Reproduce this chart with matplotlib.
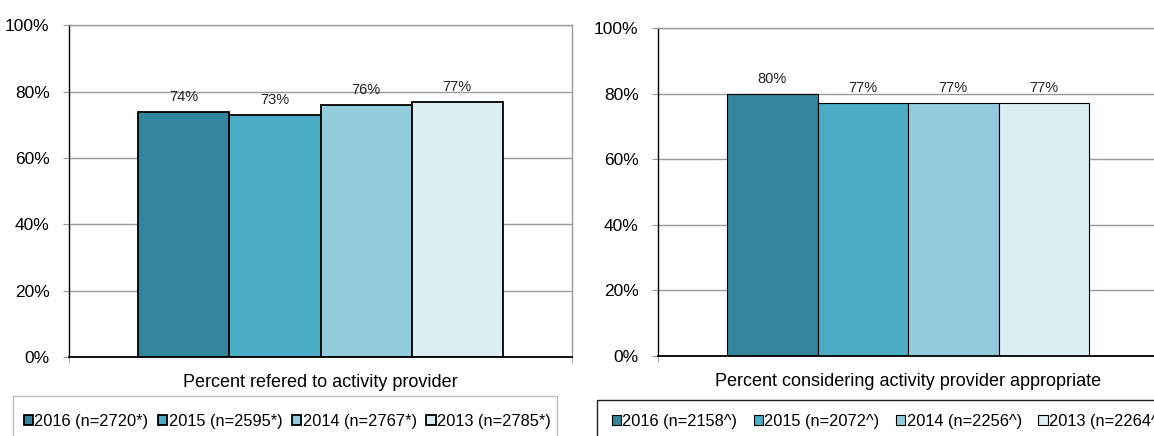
import matplotlib
matplotlib.use("Agg")
import matplotlib.pyplot as plt
from matplotlib.patches import Rectangle

plt.rcParams['font.family'] = ['Liberation Sans', 'DejaVu Sans']

# Survey results per year
years = ["2016", "2015", "2014", "2013"]
left_category = "Percent refered to activity provider"
left_values = [74, 73, 76, 77]
left_labels = ["2016 (n=2720*)", "2015 (n=2595*)", "2014 (n=2767*)", "2013 (n=2785*)"]

right_category = "Percent considering activity provider appropriate"
right_values = [80, 77, 77, 77]
right_labels = ["2016 (n=2158^)", "2015 (n=2072^)", "2014 (n=2256^)", "2013 (n=2264^)"]

yticks = [0, 20, 40, 60, 80, 100]
colors = ["#31859C", "#4BACC6", "#93CDDD", "#DBEEF4"]

W, H = 1154, 436
fig = plt.figure(figsize=(W / 100, H / 100), dpi=100)

GRID = "#9a9a9a"


def draw_panel(rect, values, labels, category, edge_lw, legend_x, legend_spacing,
               frame_rect, frame_color):
    ax = fig.add_axes(rect)
    w = 0.181
    handles = []
    for i, (v, c, lab) in enumerate(zip(values, colors, labels)):
        x = (i - 1.5) * w
        b = ax.bar(x, v, width=w, color=c, edgecolor="black", linewidth=edge_lw,
                   label=lab, zorder=3)
        handles.append(b)
        ax.annotate(f"{v}%", (x, v), xytext=(0, 8), textcoords="offset pixels",
                    ha="center", va="bottom", fontsize=10.5, color="#222222")
    ax.set_xlim(-0.5, 0.5)
    ax.set_ylim(0, 100)
    ax.set_yticks(yticks)
    ax.set_yticklabels([f"{t}%" for t in yticks], fontsize=12.5)
    ax.yaxis.grid(True, color=GRID, linewidth=1.0, zorder=0)
    ax.tick_params(axis="y", length=4, color=GRID, pad=10)
    ax.set_xticks([0])
    ax.set_xticklabels([category], fontsize=13)
    ax.tick_params(axis="x", length=0, pad=12)
    ax.set_xticks([-0.5, 0.5], minor=True)
    ax.tick_params(axis="x", which="minor", length=4, color=GRID)
    for s in ("top", "right"):
        ax.spines[s].set_color(GRID)
        ax.spines[s].set_linewidth(1.0)
    ax.spines["left"].set_color("black")
    ax.spines["left"].set_linewidth(1.0)
    ax.spines["bottom"].set_color("black")
    ax.spines["bottom"].set_linewidth(1.3)
    ax.spines["bottom"].set_zorder(4)

    fig.patches.append(Rectangle(frame_rect[:2], frame_rect[2], frame_rect[3],
                                 transform=fig.transFigure, fill=False,
                                 edgecolor=frame_color, linewidth=1.0))
    fig.legend(handles=handles, labels=labels, loc="center left",
               bbox_to_anchor=(legend_x, 1 - 421.5 / H), ncol=4, frameon=False,
               fontsize=11.8, handlelength=0.58, handleheight=0.58,
               handletextpad=0.08, columnspacing=legend_spacing, borderpad=0,
               borderaxespad=0)
    return ax


draw_panel([69 / W, 1 - 357 / H, 503 / W, (357 - 25.3) / H],
           left_values, left_labels, left_category, 1.3,
           23.5 / W, 0.58,
           (13 / W, -0.05, (557 - 13) / W, 1 - 396 / H + 0.05), "#bdbdbd")

draw_panel([658 / W, 1 - 356 / H, 500 / W, (356 - 28) / H],
           right_values, right_labels, right_category, 0.8,
           611.5 / W, 1.0,
           (597 / W, -0.05, 0.6, 1 - 400 / H + 0.05), "#222222")

fig.savefig("out.png", dpi=100)
